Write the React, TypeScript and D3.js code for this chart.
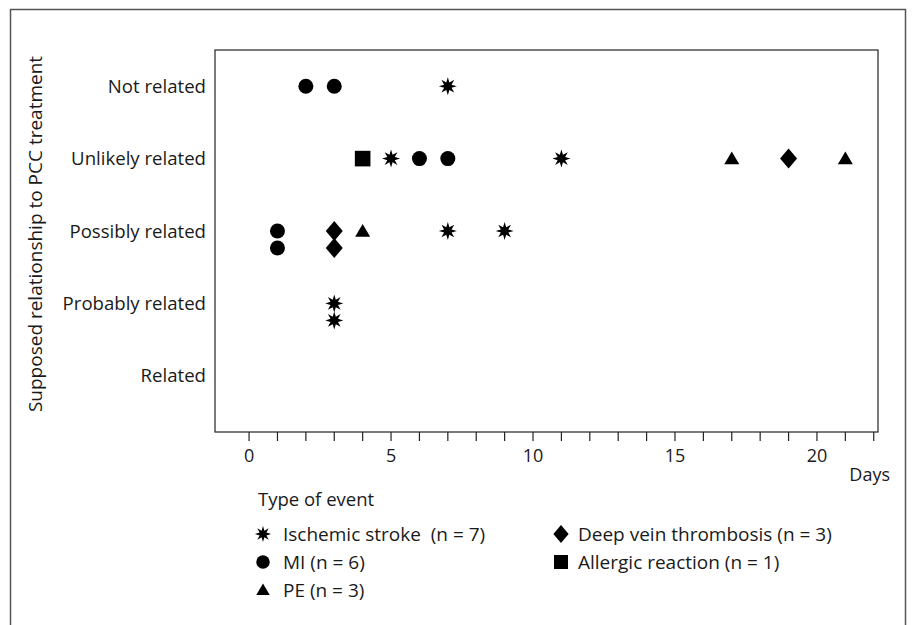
import React, { useRef, useEffect } from 'react'
import * as d3 from 'd3'

// relationship categories, top to bottom
const categories = ['Not related', 'Unlikely related', 'Possibly related', 'Probably related', 'Related']

// events per type: day after PCC and rated relationship
const strokeDays = [7, 5, 11, 7, 9, 3, 3]
const strokeRel = ['Not related', 'Unlikely related', 'Unlikely related', 'Possibly related', 'Possibly related', 'Probably related', 'Probably related']
const miDays = [2, 3, 6, 7, 1, 1]
const miRel = ['Not related', 'Not related', 'Unlikely related', 'Unlikely related', 'Possibly related', 'Possibly related']
const peDays = [17, 21, 4]
const peRel = ['Unlikely related', 'Unlikely related', 'Possibly related']
const dvtDays = [19, 3, 3]
const dvtRel = ['Unlikely related', 'Possibly related', 'Possibly related']
const allergyDays = [4]
const allergyRel = ['Unlikely related']

const xTicks = d3.range(0, 23)
const xLabels = [0, 5, 10, 15, 20]

const legendItems = [
  { key: 'stroke', label: 'Ischemic stroke  (n = 7)', col: 0, row: 0 },
  { key: 'mi', label: 'MI (n = 6)', col: 0, row: 1 },
  { key: 'pe', label: 'PE (n = 3)', col: 0, row: 2 },
  { key: 'dvt', label: 'Deep vein thrombosis (n = 3)', col: 1, row: 0 },
  { key: 'allergy', label: 'Allergic reaction (n = 1)', col: 1, row: 1 },
]

const FONT = '"Open Sans", "Noto Sans", sans-serif'

// custom symbol shapes (size = radius)
const star8 = {
  draw(ctx: any, r: number) {
    const inner = r * 0.45
    for (let i = 0; i < 16; i++) {
      const a = (Math.PI / 8) * i - Math.PI / 2
      const rr = i % 2 === 0 ? r : inner
      const x = Math.cos(a) * rr, y = Math.sin(a) * rr
      if (i === 0) ctx.moveTo(x, y)
      else ctx.lineTo(x, y)
    }
    ctx.closePath()
  },
}
const circle = { draw(ctx: any, r: number) { ctx.moveTo(r, 0); ctx.arc(0, 0, r, 0, 2 * Math.PI) } }
const square = { draw(ctx: any, r: number) { ctx.rect(-r, -r, 2 * r, 2 * r) } }
const diamond = {
  draw(ctx: any, r: number) {
    const w = r * 0.85
    ctx.moveTo(0, -r); ctx.lineTo(w, 0); ctx.lineTo(0, r); ctx.lineTo(-w, 0); ctx.closePath()
  },
}
const triangle = {
  draw(ctx: any, r: number) {
    ctx.moveTo(0, -r * 0.95); ctx.lineTo(r, r * 0.75); ctx.lineTo(-r, r * 0.75); ctx.closePath()
  },
}

const shapes: Record<string, { type: any; size: number }> = {
  stroke: { type: star8, size: 9 },
  mi: { type: circle, size: 7.5 },
  pe: { type: triangle, size: 7.5 },
  dvt: { type: diamond, size: 10 },
  allergy: { type: square, size: 7.8 },
}

const App = () => {
  const ref = useRef<SVGSVGElement>(null)

  useEffect(() => {
    const svg = d3.select(ref.current)
    svg.selectAll('*').remove()

    const width = 912, height = 625
    const plot = { left: 215, top: 50, right: 878, bottom: 432 }

    const x = d3.scaleLinear().domain([-1.2, 22.15]).range([plot.left, plot.right])
    const y = d3.scalePoint().domain(categories).range([plot.top, plot.bottom - 20]).padding(0.5)

    // outer frame
    svg.append('rect')
      .attr('x', 10.5).attr('y', 9.5).attr('width', 895).attr('height', height)
      .attr('fill', 'none').attr('stroke', '#555').attr('stroke-width', 1.5)

    // plot box
    svg.append('rect')
      .attr('x', plot.left).attr('y', plot.top)
      .attr('width', plot.right - plot.left).attr('height', plot.bottom - plot.top)
      .attr('fill', 'none').attr('stroke', '#222').attr('stroke-width', 1.2)

    // x ticks
    svg.append('g').selectAll('line')
      .data(xTicks).enter().append('line')
      .attr('x1', d => x(d)).attr('x2', d => x(d))
      .attr('y1', plot.bottom).attr('y2', plot.bottom + 9)
      .attr('stroke', '#222').attr('stroke-width', 1.2)

    svg.append('g').selectAll('text')
      .data(xLabels).enter().append('text')
      .attr('x', d => x(d)).attr('y', plot.bottom + 30)
      .attr('text-anchor', 'middle')
      .attr('font-family', FONT).attr('font-size', 18).attr('fill', '#1a1a1a')
      .text(d => d)

    svg.append('text')
      .attr('x', 890).attr('y', 481).attr('text-anchor', 'end')
      .attr('font-family', FONT).attr('font-size', 18).attr('fill', '#1a1a1a')
      .text('Days')

    // category labels
    svg.append('g').selectAll('text')
      .data(categories).enter().append('text')
      .attr('x', 206).attr('y', d => y(d)!)
      .attr('dy', '0.35em').attr('text-anchor', 'end')
      .attr('font-family', FONT).attr('font-size', 18.6).attr('fill', '#1a1a1a')
      .text(d => d)

    svg.append('text')
      .attr('transform', `translate(35, 234) rotate(-90)`)
      .attr('dy', '0.35em').attr('text-anchor', 'middle')
      .attr('font-family', FONT).attr('font-size', 19).attr('fill', '#1a1a1a')
      .text('Supposed relationship to PCC treatment')

    // points, stacking repeated day/category pairs
    const series = [
      { key: 'stroke', days: strokeDays, rel: strokeRel },
      { key: 'mi', days: miDays, rel: miRel },
      { key: 'pe', days: peDays, rel: peRel },
      { key: 'dvt', days: dvtDays, rel: dvtRel },
      { key: 'allergy', days: allergyDays, rel: allergyRel },
    ]
    const points: { key: string; day: number; rel: string; stack: number }[] = []
    series.forEach(s => {
      const seen: Record<string, number> = {}
      s.days.forEach((d, i) => {
        const id = d + '|' + s.rel[i]
        const n = seen[id] || 0
        seen[id] = n + 1
        points.push({ key: s.key, day: d, rel: s.rel[i], stack: n })
      })
    })

    const sym = (key: string, k = 1) => d3.symbol().type(shapes[key].type).size(shapes[key].size * k)()

    svg.append('g').selectAll('path')
      .data(points).enter().append('path')
      .attr('transform', d => `translate(${x(d.day)}, ${y(d.rel)! + d.stack * 17})`)
      .attr('d', d => sym(d.key))
      .attr('fill', '#000')

    // legend
    const lg = svg.append('g')
    lg.append('text')
      .attr('x', 258).attr('y', 506)
      .attr('font-family', FONT).attr('font-size', 18.5).attr('fill', '#1a1a1a')
      .text('Type of event')

    const colX = [263, 561]
    const rowY = [534, 562, 590]
    const item = lg.selectAll('g.item')
      .data(legendItems).enter().append('g')
      .attr('class', 'item')
      .attr('transform', d => `translate(${colX[d.col]}, ${rowY[d.row]})`)
    item.append('path')
      .attr('d', d => sym(d.key, 0.9))
      .attr('fill', '#000')
    item.append('text')
      .attr('x', d => (d.col === 0 ? 20 : 17)).attr('dy', '0.35em')
      .attr('font-family', FONT).attr('font-size', 19).attr('fill', '#1a1a1a')
      .style('white-space', 'pre')
      .text(d => d.label)

    svg.attr('width', width).attr('height', height)
  }, [])

  return (
    <svg ref={ref} style={{ position: 'absolute', left: 0, top: 0, background: '#fff' }} />
  )
}

export default App
